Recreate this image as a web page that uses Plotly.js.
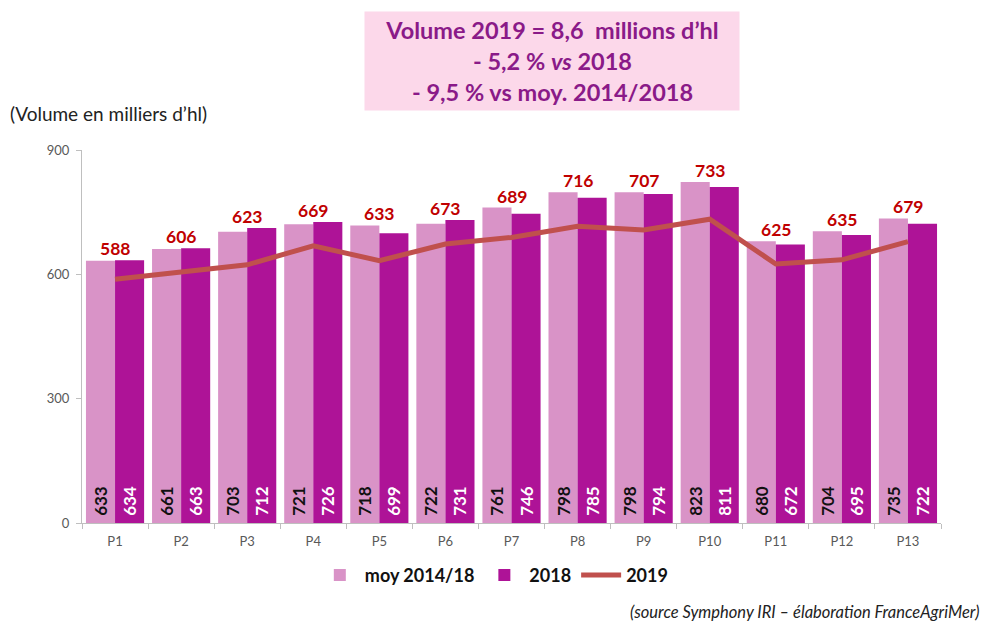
<!DOCTYPE html>
<html>
<head>
<meta charset="utf-8">
<script src="https://cdn.plot.ly/plotly-3.0.1.min.js"></script>
<style>body{margin:0;padding:0;background:#fff}#chart{width:986px;height:623px}</style>
</head>
<body>
<div id="chart"></div>
<script>
const categories = ["P1","P2","P3","P4","P5","P6","P7","P8","P9","P10","P11","P12","P13"];
const moy1418 = [633,661,703,721,718,722,761,798,798,823,680,704,735];
const vol2018 = [634,663,712,726,699,731,746,785,794,811,672,695,722];
const vol2019 = [588,606,623,669,633,673,689,716,707,733,625,635,679];
const yTicks = [0,300,600,900];

const FONT = "Lato, 'Open Sans', sans-serif";
const PAD = "\u00a0";

const traces = [
  {
    type: "bar", name: "moy 2014/18", x: categories, y: moy1418,
    marker: {color: "#D993C7"},
    text: moy1418.map(v => PAD + v), textposition: "inside", insidetextanchor: "start",
    constraintext: "none",
    textangle: -90, textfont: {family: FONT, size: 17, color: "#111", weight: "bold"},
    hoverinfo: "skip"
  },
  {
    type: "bar", name: "2018", x: categories, y: vol2018,
    marker: {color: "#AE1397"},
    text: vol2018.map(v => PAD + v), textposition: "inside", insidetextanchor: "start",
    constraintext: "none",
    textangle: -90, textfont: {family: FONT, size: 17, color: "#fff", weight: "bold"},
    hoverinfo: "skip"
  },
  {
    type: "scatter", mode: "lines", name: "2019", x: categories, y: vol2019,
    line: {color: "#C0504D", width: 5},
    hoverinfo: "skip"
  }
];

const annotations = categories.map((c, i) => ({
  x: c, y: Math.max(moy1418[i], vol2018[i]), xref: "x", yref: "y",
  text: "<b>" + vol2019[i] + "</b>", showarrow: false,
  yanchor: "bottom", yshift: -1,
  font: {family: FONT, size: 17.5, color: "#C00000"}
}));

annotations.push({
  xref: "paper", yref: "paper", x: 0.547, y: 1.239,
  xanchor: "center", yanchor: "middle", showarrow: false,
  width: 372, height: 96, bgcolor: "#FCD8EA",
  text: "<b>Volume 2019 = 8,6  millions d’hl<br>- 5,2 % <i>vs</i> 2018<br>- 9,5 % vs moy. 2014/2018</b>",
  font: {family: FONT, size: 23.5, color: "#8A1A88"}, align: "center"
});
annotations.push({
  xref: "paper", yref: "paper", x: -0.086, y: 1.097,
  xanchor: "left", yanchor: "middle", showarrow: false,
  text: "(Volume en milliers d’hl)",
  font: {family: FONT, size: 19, color: "#222"}
});
annotations.push({
  xref: "paper", yref: "paper", x: 1.046, y: -0.238,
  xanchor: "right", yanchor: "middle", showarrow: false,
  text: "<i>(source Symphony IRI – élaboration FranceAgriMer)</i>",
  font: {family: FONT, size: 16.5, color: "#222"}
});

const layout = {
  width: 986, height: 623,
  margin: {l: 82, r: 45, t: 150, b: 100},
  paper_bgcolor: "#fff", plot_bgcolor: "#fff",
  barmode: "group", bargap: 0.12, bargroupgap: 0,
  showlegend: true,
  legend: {
    orientation: "h", x: 0.48, xanchor: "center", y: -0.14, yanchor: "middle",
    font: {family: FONT, size: 18, color: "#111", weight: "bold"},
    traceorder: "normal", itemwidth: 40
  },
  xaxis: {
    type: "category", showline: true, linecolor: "#BFBFBF", linewidth: 1,
    ticks: "outside", tickson: "boundaries", ticklen: 5, tickcolor: "#BFBFBF",
    ticklabelstandoff: 6,
    tickfont: {family: FONT, size: 13, color: "#595959"},
    showgrid: false, zeroline: false, fixedrange: true
  },
  yaxis: {
    range: [0, 900], tickvals: yTicks, ticktext: yTicks.map(String),
    showline: true, linecolor: "#BFBFBF", linewidth: 1,
    ticks: "outside", ticklen: 5, tickcolor: "#BFBFBF",
    ticklabelstandoff: 4,
    tickfont: {family: FONT, size: 13, color: "#595959"},
    showgrid: false, zeroline: false, fixedrange: true
  },
  annotations: annotations
};

Plotly.newPlot("chart", traces, layout, {displayModeBar: false, staticPlot: true});
</script>
</body>
</html>
